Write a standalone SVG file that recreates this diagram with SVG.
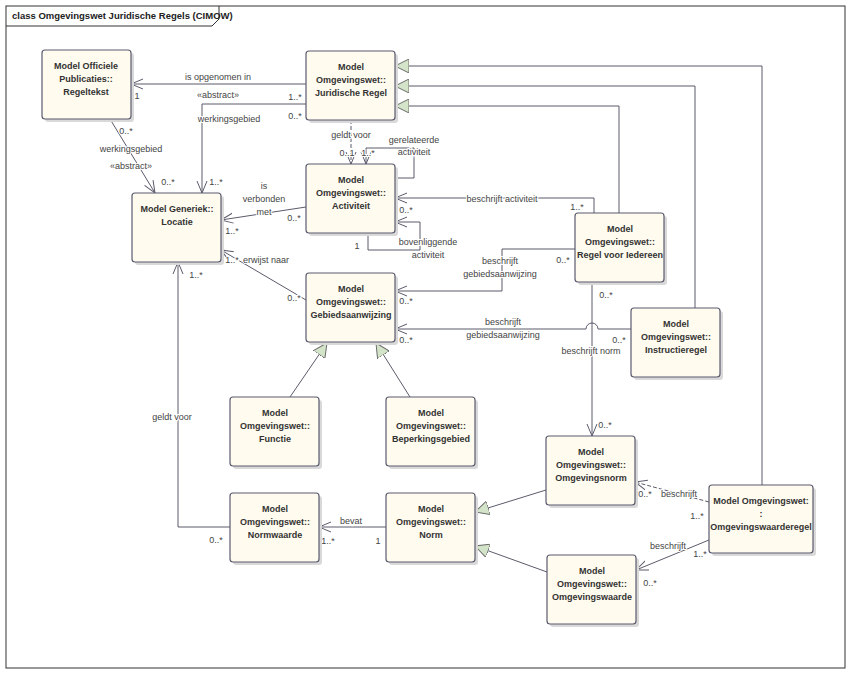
<svg xmlns="http://www.w3.org/2000/svg" width="850" height="674" viewBox="0 0 850 674">
<style>
.b{fill:#fffbef;stroke:#5b5b70;stroke-width:1.2}
.s{fill:#d9d9d9}
.t{font-family:"Liberation Sans",Arial,sans-serif;font-size:9px;font-weight:bold;fill:#333;text-anchor:middle}
.l{font-family:"Liberation Sans",Arial,sans-serif;font-size:9px;fill:#444;text-anchor:middle;paint-order:stroke;stroke:#fff;stroke-width:2px}
.c{fill:none;stroke:#5b5b6b;stroke-width:1}
.d{stroke-dasharray:4,2}
.g{fill:#d3e4c8;stroke:#6b6b6b}
</style>
<defs>
<marker id="a" viewBox="0 0 12 12" refX="12" refY="6" markerWidth="12" markerHeight="12" orient="auto" markerUnits="userSpaceOnUse"><path d="M0,1 L12,6 L0,11" fill="none" stroke="#5b5b6b"/></marker>
<marker id="tr" viewBox="0 0 14 14" refX="14" refY="7" markerWidth="14" markerHeight="14" orient="auto" markerUnits="userSpaceOnUse"><path d="M0,0 L14,7 L0,14 Z" class="g"/></marker>
</defs>
<rect width="850" height="674" fill="#fff"/>
<rect x="6" y="6" width="839" height="662" fill="none" stroke="#333"/>
<path d="M6,26 H212 L219,19 V6" fill="none" stroke="#333"/>
<text x="12" y="19" font-family="Liberation Sans,Arial,sans-serif" font-size="9.5" font-weight="bold" fill="#222">class Omgevingswet Juridische Regels (CIMOW)</text>

<g id="connectors">
<path class="c" marker-end="url(#tr)" d="M762,485 V66 H395"/>
<path class="c" marker-end="url(#tr)" d="M695,308 V86 H395"/>
<path class="c" marker-end="url(#tr)" d="M619,213 V106 H395"/>
<path class="c" marker-end="url(#tr)" d="M290,397 L327,343"/>
<path class="c" marker-end="url(#tr)" d="M410,397 L376,343"/>
<path class="c" marker-end="url(#tr)" d="M546,490 L475,512"/>
<path class="c" marker-end="url(#tr)" d="M547,572 L475,546"/>
<path class="c" marker-end="url(#a)" d="M306,84 H131"/>
<path class="c" marker-end="url(#a)" d="M306,104 H202 V193"/>
<path class="c" marker-end="url(#a)" d="M110,119 L155,193"/>
<path class="c d" marker-end="url(#a)" d="M351,120 V164"/>
<path class="c" marker-end="url(#a)" d="M395,178 H414 V148 H366 V164"/>
<path class="c" marker-end="url(#a)" d="M306,207 L221,220"/>
<path class="c" marker-end="url(#a)" d="M368,233 V250 H420 V222 H395"/>
<path class="c" marker-end="url(#a)" d="M594,213 V198 H395"/>
<path class="c" marker-end="url(#a)" d="M575,249 H502 V291 H395"/>
<path class="c" marker-end="url(#a)" d="M631,329 H598 A6,6 0 0 0 586,329 H395"/>
<path class="c" marker-end="url(#a)" d="M592,282 V436"/>
<path class="c" marker-end="url(#a)" d="M306,300 L221,250"/>
<path class="c" marker-end="url(#a)" d="M230,527 H178 V262"/>
<path class="c" marker-end="url(#a)" d="M386,527 H319"/>
<path class="c d" marker-end="url(#a)" d="M709,502 L635,482"/>
<path class="c" marker-end="url(#a)" d="M709,540 L636,570"/>
</g>
<g id="labels">
<text class="l" x="218" y="80">is opgenomen in</text>
<text class="l" x="137" y="99">1</text>
<text class="l" x="218" y="98">«abstract»</text>
<text class="l" x="229" y="122">werkingsgebied</text>
<text class="l" x="295" y="100">1..*</text>
<text class="l" x="295" y="119">0..*</text>
<text class="l" x="216" y="185">1..*</text>
<text class="l" x="126" y="134">0..*</text>
<text class="l" x="131" y="152">werkingsgebied</text>
<text class="l" x="131" y="169">«abstract»</text>
<text class="l" x="168" y="185">0..*</text>
<text class="l" x="351" y="138">geldt voor</text>
<text class="l" x="347" y="156">0..1</text>
<text class="l" x="368" y="156">1..*</text>
<text class="l" x="414" y="143">gerelateerde</text>
<text class="l" x="414" y="155">activiteit</text>
<text class="l" x="376" y="174">1</text>
<text class="l" x="264" y="189">is</text>
<text class="l" x="264" y="202">verbonden</text>
<text class="l" x="264" y="215">met</text>
<text class="l" x="294" y="221">0..*</text>
<text class="l" x="232" y="234">1..*</text>
<text class="l" x="406" y="213">0..*</text>
<text class="l" x="389" y="225">0..1</text>
<text class="l" x="357" y="249">1</text>
<text class="l" x="428" y="245">bovenliggende</text>
<text class="l" x="428" y="258">activiteit</text>
<text class="l" x="502" y="202">beschrijft activiteit</text>
<text class="l" x="577" y="210">1..*</text>
<text class="l" x="500" y="264">beschrijft</text>
<text class="l" x="500" y="277">gebiedsaanwijzing</text>
<text class="l" x="563" y="263">0..*</text>
<text class="l" x="406" y="304">0..*</text>
<text class="l" x="503" y="325">beschrijft</text>
<text class="l" x="503" y="338">gebiedsaanwijzing</text>
<text class="l" x="406" y="343">0..*</text>
<text class="l" x="619" y="343">0..*</text>
<text class="l" x="606" y="298">0..*</text>
<text class="l" x="591" y="354">beschrijft norm</text>
<text class="l" x="605" y="428">0..*</text>
<text class="l" x="232" y="263">1..*</text>
<text class="l" x="266" y="263">erwijst naar</text>
<text class="l" x="294" y="301">0..*</text>
<text class="l" x="196" y="278">1..*</text>
<text class="l" x="172" y="420">geldt voor</text>
<text class="l" x="216" y="543">0..*</text>
<text class="l" x="351" y="524">bevat</text>
<text class="l" x="328" y="544">1..*</text>
<text class="l" x="378" y="544">1</text>
<text class="l" x="645" y="497">0..*</text>
<text class="l" x="679" y="497">beschrijft</text>
<text class="l" x="697" y="519">1..*</text>
<text class="l" x="668" y="549">beschrijft</text>
<text class="l" x="700" y="557">1..*</text>
<text class="l" x="650" y="586">0..*</text>
</g>

<g id="Regeltekst"><rect class="s" x="45" y="53" width="89" height="69" rx="3"/><rect class="b" x="42" y="50" width="89" height="69" rx="3"/><text class="t" x="86" y="69">Model Officiele</text><text class="t" x="86" y="82">Publicaties::</text><text class="t" x="86" y="95">Regeltekst</text></g>
<g id="JuridischeRegel"><rect class="s" x="309" y="54" width="89" height="69" rx="3"/><rect class="b" x="306" y="51" width="89" height="69" rx="3"/><text class="t" x="351" y="70">Model</text><text class="t" x="351" y="83">Omgevingswet::</text><text class="t" x="351" y="96">Juridische Regel</text></g>
<g id="Locatie"><rect class="s" x="135" y="196" width="89" height="69" rx="3"/><rect class="b" x="132" y="193" width="89" height="69" rx="3"/><text class="t" x="177" y="212">Model Generiek::</text><text class="t" x="177" y="225">Locatie</text></g>
<g id="Activiteit"><rect class="s" x="309" y="167" width="89" height="69" rx="3"/><rect class="b" x="306" y="164" width="89" height="69" rx="3"/><text class="t" x="351" y="183">Model</text><text class="t" x="351" y="196">Omgevingswet::</text><text class="t" x="351" y="209">Activiteit</text></g>
<g id="RegelVoorIedereen"><rect class="s" x="578" y="216" width="89" height="69" rx="3"/><rect class="b" x="575" y="213" width="89" height="69" rx="3"/><text class="t" x="620" y="232">Model</text><text class="t" x="620" y="245">Omgevingswet::</text><text class="t" x="620" y="258">Regel voor Iedereen</text></g>
<g id="Gebiedsaanwijzing"><rect class="s" x="309" y="276" width="89" height="69" rx="3"/><rect class="b" x="306" y="273" width="89" height="69" rx="3"/><text class="t" x="351" y="292">Model</text><text class="t" x="351" y="305">Omgevingswet::</text><text class="t" x="351" y="318">Gebiedsaanwijzing</text></g>
<g id="Instructieregel"><rect class="s" x="634" y="311" width="89" height="69" rx="3"/><rect class="b" x="631" y="308" width="89" height="69" rx="3"/><text class="t" x="676" y="327">Model</text><text class="t" x="676" y="340">Omgevingswet::</text><text class="t" x="676" y="353">Instructieregel</text></g>
<g id="Functie"><rect class="s" x="233" y="400" width="89" height="69" rx="3"/><rect class="b" x="230" y="397" width="89" height="69" rx="3"/><text class="t" x="275" y="416">Model</text><text class="t" x="275" y="429">Omgevingswet::</text><text class="t" x="275" y="442">Functie</text></g>
<g id="Beperkingsgebied"><rect class="s" x="389" y="400" width="89" height="69" rx="3"/><rect class="b" x="386" y="397" width="89" height="69" rx="3"/><text class="t" x="431" y="416">Model</text><text class="t" x="431" y="429">Omgevingswet::</text><text class="t" x="431" y="442">Beperkingsgebied</text></g>
<g id="Omgevingsnorm"><rect class="s" x="549" y="439" width="89" height="69" rx="3"/><rect class="b" x="546" y="436" width="89" height="69" rx="3"/><text class="t" x="591" y="455">Model</text><text class="t" x="591" y="468">Omgevingswet::</text><text class="t" x="591" y="481">Omgevingsnorm</text></g>
<g id="Omgevingswaarderegel"><rect class="s" x="712" y="488" width="104" height="68" rx="3"/><rect class="b" x="709" y="485" width="104" height="68" rx="3"/><text class="t" x="761" y="504">Model Omgevingswet:</text><text class="t" x="761" y="517">:</text><text class="t" x="761" y="530">Omgevingswaarderegel</text></g>
<g id="Normwaarde"><rect class="s" x="233" y="496" width="89" height="69" rx="3"/><rect class="b" x="230" y="493" width="89" height="69" rx="3"/><text class="t" x="275" y="512">Model</text><text class="t" x="275" y="525">Omgevingswet::</text><text class="t" x="275" y="538">Normwaarde</text></g>
<g id="Norm"><rect class="s" x="389" y="496" width="89" height="69" rx="3"/><rect class="b" x="386" y="493" width="89" height="69" rx="3"/><text class="t" x="431" y="512">Model</text><text class="t" x="431" y="525">Omgevingswet::</text><text class="t" x="431" y="538">Norm</text></g>
<g id="Omgevingswaarde"><rect class="s" x="550" y="558" width="89" height="69" rx="3"/><rect class="b" x="547" y="555" width="89" height="69" rx="3"/><text class="t" x="592" y="574">Model</text><text class="t" x="592" y="587">Omgevingswet::</text><text class="t" x="592" y="600">Omgevingswaarde</text></g>
</svg>
